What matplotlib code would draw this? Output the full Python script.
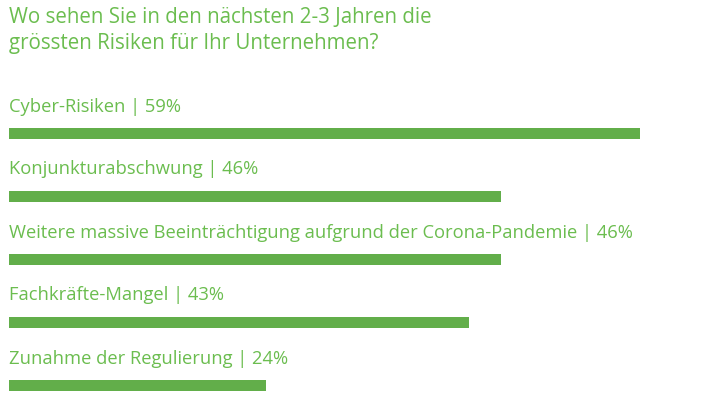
import matplotlib
matplotlib.use('Agg')
import matplotlib.pyplot as plt

title = 'Wo sehen Sie in den nächsten 2-3 Jahren die\ngrössten Risiken für Ihr Unternehmen?'
categories = ['Cyber-Risiken', 'Konjunkturabschwung',
              'Weitere massive Beeinträchtigung aufgrund der Corona-Pandemie',
              'Fachkräfte-Mangel', 'Zunahme der Regulierung']
values = [59, 46, 46, 43, 24]

bar_col = '#62ae4a'
txt_col = '#6bbd4f'

fig = plt.figure(figsize=(7.18, 3.98), dpi=100)
ax = fig.add_axes([0, 0, 1, 1])
pos = list(range(len(values)))
ax.barh(pos, values, height=11/63, color=bar_col, left=0)
for i, (c, v) in enumerate(zip(categories, values)):
    ax.text(0, i - 22/63, f'{c} | {v}%', color=txt_col, fontsize=13.2,
            family='Open Sans', va='baseline', ha='left')

ax.set_xlim(-9*59/631, 709*59/631)
ax.set_ylim((398-133.5)/63, -133.5/63)
ax.axis('off')
fig.text(9/718, 1-7/398, title, color=txt_col, fontsize=14.8, family='Open Sans',
         va='top', ha='left', linespacing=1.3)
fig.savefig('out.png', dpi=100)
